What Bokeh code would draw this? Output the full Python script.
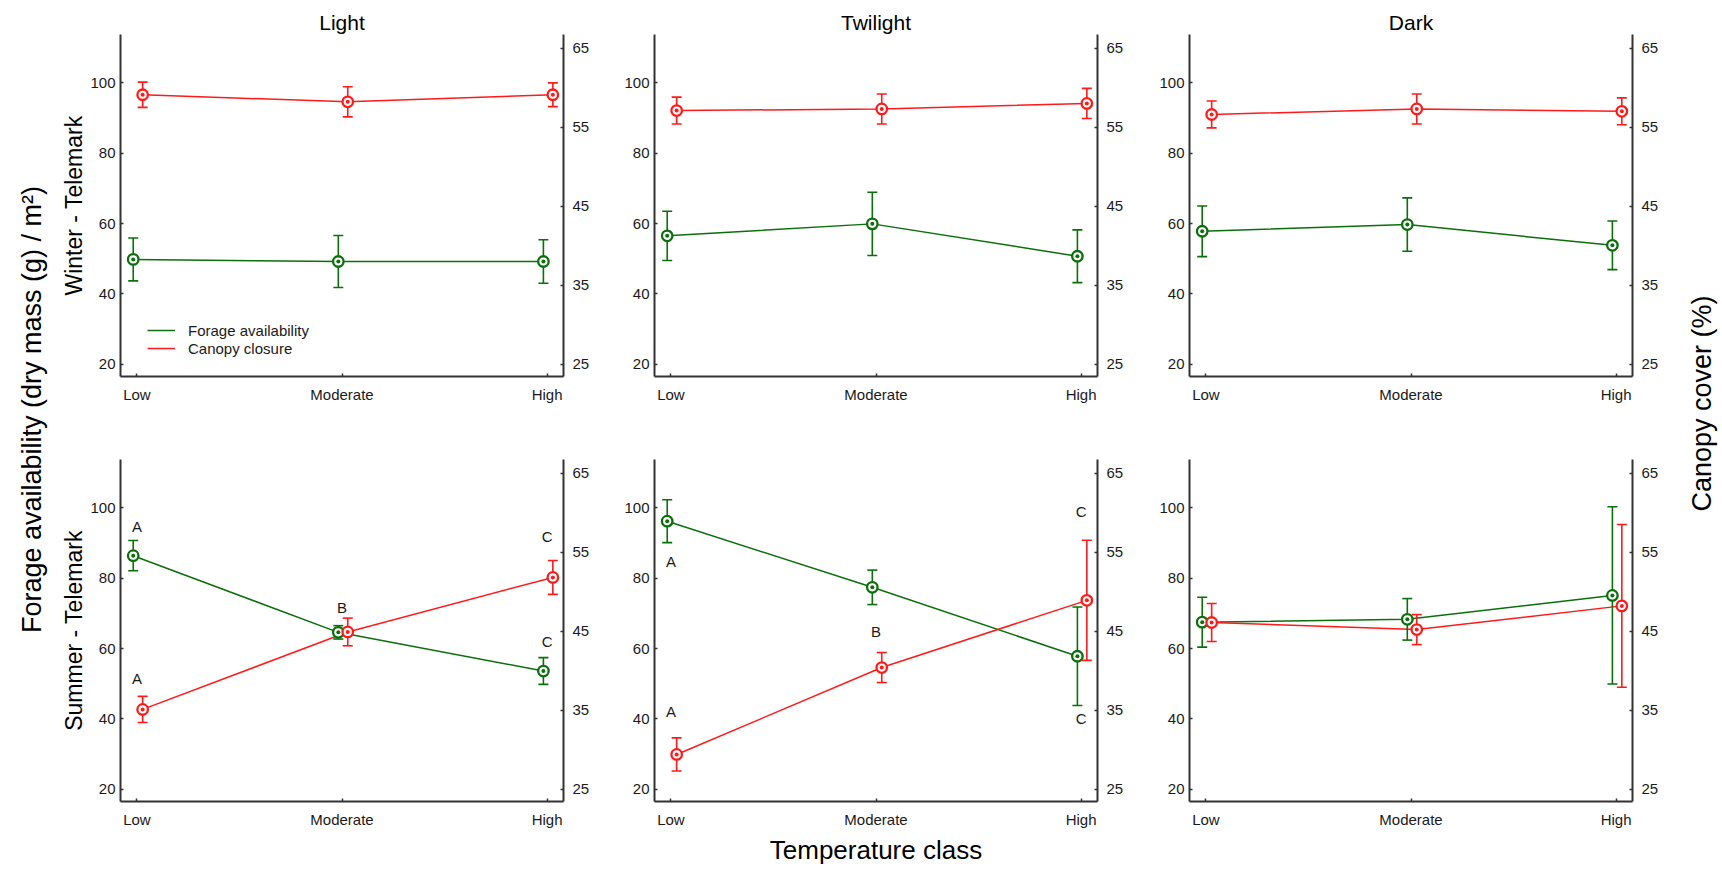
import math
from bokeh.plotting import figure
from bokeh.models import (Range1d, LinearAxis, FixedTicker, ColumnDataSource,
                          Legend, LegendItem, Label, Title)
from bokeh.layouts import row, column
from bokeh.embed import file_html
from bokeh.resources import INLINE
from bokeh.core.properties import value

# ---------------- data ----------------
categories = ["Low", "Moderate", "High"]
light_levels = ["Light", "Twilight", "Dark"]
season_labels = ["Winter - Telemark", "Summer - Telemark"]

# forage availability (g/m2), rows: Light, Twilight, Dark
winter_forage = [[49.8, 49.2, 49.2], [56.5, 59.9, 50.7], [57.8, 59.7, 53.8]]
winter_forage_err = [[6.1, 7.4, 6.2], [7.0, 9.0, 7.5], [7.2, 7.6, 6.9]]
summer_forage = [[86.4, 64.6, 53.6], [96.2, 77.4, 57.8], [67.5, 68.3, 75.1]]
summer_forage_err = [[4.3, 1.9, 3.8], [6.1, 4.9, 14.0], [7.1, 5.9, 25.2]]

# canopy cover (%)
winter_canopy = [[59.1, 58.2, 59.1], [57.1, 57.3, 58.0], [56.6, 57.3, 57.0]]
winter_canopy_err = [[1.6, 1.9, 1.5], [1.7, 1.9, 1.9], [1.7, 1.9, 1.7]]
summer_canopy = [[35.1, 44.9, 51.8], [29.4, 40.4, 48.9], [46.1, 45.2, 48.2]]
summer_canopy_err = [[1.65, 1.75, 2.15], [2.1, 1.9, 7.6], [2.4, 1.9, 10.3]]

# significance letters (summer only): text, category index, y on forage scale
summer_letters = [["A", "A", "B", "C", "C"], ["A", "A", "B", "C", "C"], []]
summer_letter_cat = [[0, 0, 1, 2, 2], [0, 0, 1, 2, 2], []]
summer_letter_y = [[94.7, 51.4, 71.8, 91.8, 61.9], [84.7, 42.2, 64.9, 98.9, 40.0], []]

forage_mean = [winter_forage, summer_forage]
forage_err = [winter_forage_err, summer_forage_err]
canopy_mean = [winter_canopy, summer_canopy]
canopy_err = [winter_canopy_err, summer_canopy_err]

# ---------------- style ----------------
FONT = "Liberation Sans"
GREEN = "#0b6f0b"
RED = "#ff1a1a"
AXIS = "#333333"
TXT = "#1a1a1a"
GREEN_DX = -0.018
RED_DX = 0.028


def style_axis(ax, standoff):
    ax.axis_line_color = AXIS
    ax.axis_line_width = 2
    ax.major_tick_line_color = AXIS
    ax.major_tick_line_width = 1.5
    ax.major_tick_in = 3
    ax.major_tick_out = 0
    ax.minor_tick_line_color = None
    ax.major_label_text_font = FONT
    ax.major_label_text_font_size = "15px"
    ax.major_label_text_color = TXT
    ax.major_label_standoff = standoff


def panel(ri, ci):
    top = ri == 0
    p = figure(frame_width=443, frame_height=342,
               x_range=Range1d(-0.08, 2.08), y_range=Range1d(16.5, 113.75),
               min_border_left=[58, 32, 32][ci], min_border_right=[58, 59, 34][ci],
               min_border_top=34 if top else 43,
               min_border_bottom=40 if top else 60,
               toolbar_location=None, output_backend="svg",
               background_fill_color="white", border_fill_color="white")
    p.outline_line_color = None
    p.xgrid.visible = False
    p.ygrid.visible = False
    p.extra_y_ranges = {"canopy": Range1d(23.45, 66.72)}
    right = LinearAxis(y_range_name="canopy",
                       ticker=FixedTicker(ticks=[25, 35, 45, 55, 65]))
    p.add_layout(right, "right")

    p.xaxis.ticker = FixedTicker(ticks=list(range(len(categories))))
    p.xaxis.major_label_overrides = {i: c for i, c in enumerate(categories)}
    p.yaxis[0].ticker = FixedTicker(ticks=[20, 40, 60, 80, 100])
    style_axis(p.xaxis[0], 9)
    style_axis(p.yaxis[0], 5)
    style_axis(right, 9)

    if ci == 0:
        ax = p.yaxis[0]
        ax.axis_label = season_labels[ri]
        ax.axis_label_text_font = FONT
        ax.axis_label_text_font_size = "23px"
        ax.axis_label_text_font_style = "normal"
        ax.axis_label_text_color = "black"
        ax.axis_label_standoff = 0

    if top:
        p.title = Title(text=light_levels[ci], align="center",
                        text_font=FONT, text_font_size="21px",
                        text_font_style="normal", text_color="black",
                        standoff=2)

    xs = list(range(len(categories)))
    fm, fe = forage_mean[ri][ci], forage_err[ri][ci]
    cm, ce = canopy_mean[ri][ci], canopy_err[ri][ci]
    sf = ColumnDataSource(dict(x=[x + GREEN_DX for x in xs], y=fm,
                               lo=[m - e for m, e in zip(fm, fe)],
                               hi=[m + e for m, e in zip(fm, fe)]))
    sc = ColumnDataSource(dict(x=[x + RED_DX for x in xs], y=cm,
                               lo=[m - e for m, e in zip(cm, ce)],
                               hi=[m + e for m, e in zip(cm, ce)]))

    gl = p.line("x", "y", source=sf, line_color=GREEN, line_width=1.5)
    rl = p.line("x", "y", source=sc, line_color=RED, line_width=1.5,
                y_range_name="canopy")

    for src, col, rng in ((sf, GREEN, "default"), (sc, RED, "canopy")):
        p.segment(x0="x", y0="lo", x1="x", y1="hi", source=src,
                  line_color=col, line_width=1.6, y_range_name=rng)
        for key in ("lo", "hi"):
            p.scatter("x", key, source=src, marker="dash", size=10,
                      line_color=col, line_width=1.6, y_range_name=rng)
        p.scatter("x", "y", source=src, marker="circle", size=10.5,
                  line_color=col, line_width=2.3, fill_color="white",
                  y_range_name=rng)
        p.scatter("x", "y", source=src, marker="circle", size=4,
                  line_color=None, fill_color=col, y_range_name=rng)

    if ri == 1 and summer_letters[ci]:
        st = ColumnDataSource(dict(x=summer_letter_cat[ci], y=summer_letter_y[ci],
                                   t=summer_letters[ci]))
        p.text(x="x", y="y", text="t", source=st, text_font=value(FONT),
               text_font_size="15px", text_align="center",
               text_baseline="middle", text_color=TXT)

    if ri == 0 and ci == 0:
        legend = Legend(items=[LegendItem(label="Forage availability", renderers=[gl]),
                               LegendItem(label="Canopy closure", renderers=[rl])],
                        location=(27, 19), padding=0, margin=0, spacing=0,
                        glyph_width=28, glyph_height=18, label_height=18,
                        label_standoff=13, label_text_font=FONT,
                        label_text_font_size="15px", label_text_color=TXT,
                        border_line_color=None, background_fill_alpha=0)
        p.add_layout(legend)

    if ri == 1 and ci == 1:
        p.xaxis.axis_label = "Temperature class"
        p.xaxis.axis_label_text_font = FONT
        p.xaxis.axis_label_text_font_size = "26px"
        p.xaxis.axis_label_text_font_style = "normal"
        p.xaxis.axis_label_text_color = "black"
        p.xaxis.axis_label_standoff = 4
    return p


def label_fig(w, h, labels):
    f = figure(width=w, height=h, x_range=Range1d(0, w), y_range=Range1d(0, h),
               min_border=0, toolbar_location=None, output_backend="svg",
               x_axis_type=None, y_axis_type=None)
    f.outline_line_color = None
    f.xgrid.visible = False
    f.ygrid.visible = False
    for txt, x, y, size in labels:
        f.add_layout(Label(x=x, y=y, text=txt, angle=math.pi / 2,
                           text_align="center", text_baseline="middle",
                           text_font=FONT, text_font_size=size,
                           text_color="black"))
    return f


H = 861
left = label_fig(58, H, [
    ("Forage availability (dry mass (g) / m\u00b2)", 31, H - 409, "27px"),
])
rightf = label_fig(54, H, [("Canopy cover (%)", 35, H - 403, "27px")])

panels = [[panel(r, c) for c in range(3)] for r in range(2)]
grid = column(row(*panels[0]), row(*panels[1]))
layout = row(left, grid, rightf)

open("out.html", "w").write(file_html(layout, INLINE, title="chart"))
